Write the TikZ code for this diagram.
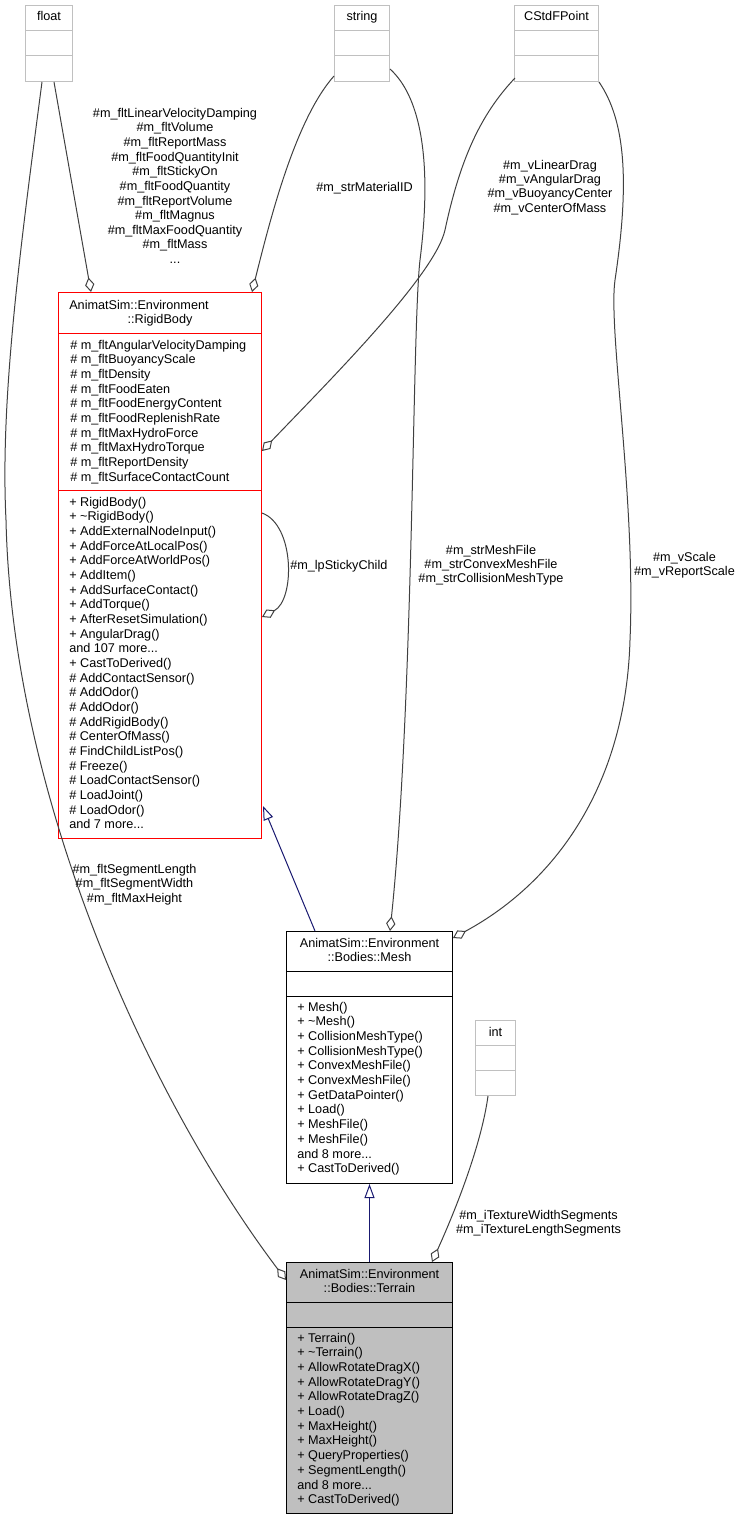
\documentclass[tikz,border=0pt]{standalone}
\usepackage{fontspec}
\setmainfont{Liberation Sans}
\usetikzlibrary{arrows.meta,calc}
\newlength\pxl
\setlength\pxl{0.75pt}
\newcommand{\tdots}{.\kern0pt.\kern0pt.}
\definecolor{edgegray}{HTML}{404040}
\definecolor{boxgray}{HTML}{BFBFBF}
\definecolor{lightframe}{HTML}{C0C0C0}
\definecolor{navyblue}{HTML}{191970}
\definecolor{rbred}{HTML}{FF0000}
\begin{document}
\begin{tikzpicture}[x=0.75pt,y=-0.75pt,
  txt/.style={inner sep=0pt, font=\fontsize{9.5pt}{11pt}\selectfont},
  umlbox/.style={draw, line width=0.75pt, inner sep=0pt, anchor=north west},
  smallbox/.style={umlbox, draw=lightframe},
  assoc/.style={draw=edgegray, line width=0.75pt, -{Diamond[open, length=11pt, width=7pt]}},
  inherit/.style={draw=navyblue, line width=0.75pt, -{Triangle[open, length=10.5pt, width=7.5pt]}},
]
\useasboundingbox (0,0) rectangle (741,1520);

% ---------- small type boxes ----------
\node[smallbox, minimum width=47\pxl, minimum height=76\pxl] (float) at (25,5) {};
\node[smallbox, minimum width=55\pxl, minimum height=76\pxl] (string) at (334,5) {};
\node[smallbox, minimum width=84\pxl, minimum height=76\pxl] (cstd) at (514,5) {};
\node[smallbox, minimum width=40\pxl, minimum height=75\pxl] (int) at (475,1020) {};
\foreach \b in {float,string,cstd,int}{
  \draw[lightframe, line width=0.75pt] ($(\b.north west)+(0,25.5)$) -- ($(\b.north east)+(0,25.5)$);
  \draw[lightframe, line width=0.75pt] ($(\b.north west)+(0,50.5)$) -- ($(\b.north east)+(0,50.5)$);
}
\node[txt, anchor=base] (floatT) at ($(float.north)+(0,16)$) {float};
\node[txt, anchor=base] (stringT) at ($(string.north)+(0,16)$) {string};
\node[txt, anchor=base] (cstdT) at ($(cstd.north)+(0,16)$) {CStdFPoint};
\node[txt, anchor=base] (intT) at ($(int.north)+(0,16)$) {int};

% ---------- RigidBody ----------
\node[umlbox, draw=rbred, minimum width=203\pxl, minimum height=546\pxl] (rb) at (58,292) {};
\draw[rbred, line width=0.75pt] ($(rb.north west)+(0,41)$) -- ($(rb.north east)+(0,41)$);
\draw[rbred, line width=0.75pt] ($(rb.north west)+(0,198)$) -- ($(rb.north east)+(0,198)$);
\node[txt, anchor=base west] (rbT1) at ($(rb.north west)+(11,17)$) {AnimatSim::Environment};
\node[txt, anchor=base] (rbT2) at ($(rb.north west)+(102,31)$) {::RigidBody};
\foreach \t [count=\i from 0] in {\# m\_fltAngularVelocityDamping, \# m\_fltBuoyancyScale, \# m\_fltDensity, \# m\_fltFoodEaten, \# m\_fltFoodEnergyContent, \# m\_fltFoodReplenishRate, \# m\_fltMaxHydroForce, \# m\_fltMaxHydroTorque, \# m\_fltReportDensity, \# m\_fltSurfaceContactCount}
  \node[txt, anchor=base west] (rba\i) at ($(rb.north west)+(12,57+\i*14.67)$) {\t};
\foreach \t [count=\i from 0] in {+ RigidBody(), + \textasciitilde RigidBody(), + AddExternalNodeInput(), + AddForceAtLocalPos(), + AddForceAtWorldPos(), + AddItem(), + AddSurfaceContact(), + AddTorque(), + AfterResetSimulation(), + AngularDrag(), and 107 more\tdots, + CastToDerived(), \# AddContactSensor(), \# AddOdor(), \# AddOdor(), \# AddRigidBody(), \# CenterOfMass(), \# FindChildListPos(), \# Freeze(), \# LoadContactSensor(), \# LoadJoint(), \# LoadOdor(), and 7 more\tdots}
  \node[txt, anchor=base west] (rbm\i) at ($(rb.north west)+(11,214+\i*14.68)$) {\t};

% ---------- Mesh ----------
\node[umlbox, minimum width=166\pxl, minimum height=252\pxl] (mesh) at (286,931) {};
\draw[line width=0.75pt] ($(mesh.north west)+(0,40)$) -- ($(mesh.north east)+(0,40)$);
\draw[line width=0.75pt] ($(mesh.north west)+(0,65)$) -- ($(mesh.north east)+(0,65)$);
\node[txt, anchor=base] (meshT1) at ($(mesh.north)+(0,16)$) {AnimatSim::Environment};
\node[txt, anchor=base] (meshT2) at ($(mesh.north)+(0,30.5)$) {::Bodies::Mesh};
\foreach \t [count=\i from 0] in {+ Mesh(), + \textasciitilde Mesh(), + CollisionMeshType(), + CollisionMeshType(), + ConvexMeshFile(), + ConvexMeshFile(), + GetDataPointer(), + Load(), + MeshFile(), + MeshFile(), and 8 more\tdots, + CastToDerived()}
  \node[txt, anchor=base west] (meshm\i) at ($(mesh.north west)+(11,80+\i*14.7)$) {\t};

% ---------- Terrain ----------
\node[umlbox, fill=boxgray, minimum width=166\pxl, minimum height=251\pxl] (terrain) at (286,1262) {};
\draw[line width=0.75pt] ($(terrain.north west)+(0,40)$) -- ($(terrain.north east)+(0,40)$);
\draw[line width=0.75pt] ($(terrain.north west)+(0,65)$) -- ($(terrain.north east)+(0,65)$);
\node[txt, anchor=base] (terT1) at ($(terrain.north)+(0,16)$) {AnimatSim::Environment};
\node[txt, anchor=base] (terT2) at ($(terrain.north)+(0,30.5)$) {::Bodies::Terrain};
\foreach \t [count=\i from 0] in {+ Terrain(), + \textasciitilde Terrain(), + AllowRotateDragX(), + AllowRotateDragY(), + AllowRotateDragZ(), + Load(), + MaxHeight(), + MaxHeight(), + QueryProperties(), + SegmentLength(), and 8 more\tdots, + CastToDerived()}
  \node[txt, anchor=base west] (term\i) at ($(terrain.north west)+(11,80+\i*14.7)$) {\t};

% ---------- connectors ----------
\draw[assoc] ($(float.south west)+(29,0)$) -- ($(rb.north west)+(33,0)$);
\draw[assoc] ($(float.south west)+(17,0)$) .. controls (20,250) and (0,400) .. (6,520)
  .. controls (12,800) and (150,1100) .. ($(terrain.north west)+(0,18)$);
\draw[assoc] ($(string.south west)+(0,-6)$) .. controls (295,120) and (270,220) .. ($(rb.north east)+(-10,0)$);
\draw[assoc] ($(string.south east)+(0,-13)$) .. controls (422,98) and (432,165) .. (420,260)
  .. controls (412,330) and (414,700) .. ($(mesh.north west)+(104,0)$);
\draw[assoc] ($(cstd.south west)+(1,-4)$) .. controls (480,115) and (460,160) .. (445,230)
  .. controls (435,275) and (330,380) .. ($(rb.north east)+(0,159)$);
\draw[assoc] (cstd.south east) .. controls (625,120) and (630,180) .. (615,280)
  .. controls (608,330) and (636,500) .. (630,640)
  .. controls (626,780) and (560,880) .. ($(mesh.north east)+(0,7)$);
\draw[assoc] ($(rb.north east)+(0,221)$) .. controls (295,525) and (295,600) .. ($(rb.north east)+(0,325)$);
\draw[inherit] ($(mesh.north west)+(29,0)$) -- ($(rb.south east)+(1,-33)$);
\draw[inherit] (terrain.north) -- (mesh.south);
\draw[assoc] ($(int.south west)+(13,0)$) .. controls (482,1140) and (460,1200) .. ($(terrain.north east)+(-21,0)$);

% ---------- connector labels ----------
\foreach \t [count=\i from 0] in {\#m\_fltLinearVelocityDamping, \#m\_fltVolume, \#m\_fltReportMass, \#m\_fltFoodQuantityInit, \#m\_fltStickyOn, \#m\_fltFoodQuantity, \#m\_fltReportVolume, \#m\_fltMagnus, \#m\_fltMaxFoodQuantity, \#m\_fltMass, \tdots}
  \node[txt, anchor=base] (l1n\i) at (175,117.3+\i*14.63) {\t};
\foreach \t [count=\i from 0] in {\#m\_fltSegmentLength, \#m\_fltSegmentWidth, \#m\_fltMaxHeight}
  \node[txt, anchor=base] (l2n\i) at (134.5,873+\i*14.6) {\t};
\node[txt, anchor=base] (l3n0) at (364.5,191) {\#m\_strMaterialID};
\foreach \t [count=\i from 0] in {\#m\_strMeshFile, \#m\_strConvexMeshFile, \#m\_strCollisionMeshType}
  \node[txt, anchor=base] (l4n\i) at (491,554+\i*14.4) {\t};
\foreach \t [count=\i from 0] in {\#m\_vLinearDrag, \#m\_vAngularDrag, \#m\_vBuoyancyCenter, \#m\_vCenterOfMass}
  \node[txt, anchor=base] (l5n\i) at (550,169+\i*14.45) {\t};
\foreach \t [count=\i from 0] in {\#m\_vScale, \#m\_vReportScale}
  \node[txt, anchor=base] (l6n\i) at (684.5,561+\i*14.6) {\t};
\node[txt, anchor=base west] (l7n0) at (290,569) {\#m\_lpStickyChild};
\foreach \t [count=\i from 0] in {\#m\_iTextureWidthSegments, \#m\_iTextureLengthSegments}
  \node[txt, anchor=base] (l10n\i) at (538.5,1219+\i*14.3) {\t};
\end{tikzpicture}
\end{document}
